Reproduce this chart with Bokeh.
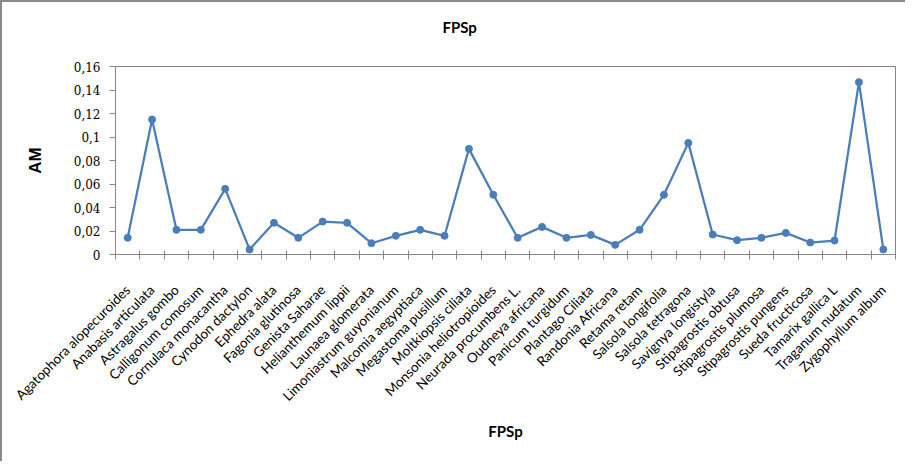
import math
from bokeh.plotting import figure
from bokeh.models import Range1d, FixedTicker, ColumnDataSource, Title
from bokeh.embed import file_html
from bokeh.resources import INLINE

chart_title = "FPSp"
species = [
    "Agatophora alopecuroides", "Anabasis articulata", "Astragalus gombo",
    "Calligonum comosum", "Cornulaca monacantha", "Cynodon dactylon",
    "Ephedra alata", "Fagonia glutinosa", "Genista Saharae",
    "Helianthemum lippii", "Launaea glomerata", "Limoniastrum guyonianum",
    "Malcomia aegyptiaca", "Megastoma pusillum", "Moltkiopsis ciliata",
    "Monsonia heliotropioides", "Neurada procumbens L.", "Oudneya africana",
    "Panicum turgidum", "Plantago Ciliata", "Randonia Africana",
    "Retama retam", "Salsola longifolia", "Salsola tetragona",
    "Savignya longistyla", "Stipagrostis obtusa", "Stipagrostis plumosa",
    "Stipagrostis pungens", "Sueda fructicosa", "Tamarix gallica L",
    "Traganum nudatum", "Zygophyllum album",
]
am_values = [
    0.0142, 0.1149, 0.0210, 0.0210, 0.0559, 0.0043,
    0.0270, 0.0142, 0.0280, 0.0270, 0.0096, 0.0159,
    0.0210, 0.0159, 0.0899, 0.0508, 0.0142, 0.0235,
    0.0142, 0.0167, 0.0082, 0.0210, 0.0508, 0.0950,
    0.0170, 0.0122, 0.0142, 0.0184, 0.0102, 0.0119,
    0.1467, 0.0043,
]
y_tick_values = [0, 0.02, 0.04, 0.06, 0.08, 0.1, 0.12, 0.14, 0.16]
y_tick_labels = ["0", "0,02", "0,04", "0,06", "0,08", "0,1", "0,12", "0,14", "0,16"]

n = len(species)
positions = list(range(1, n + 1))
src = ColumnDataSource(dict(x=positions, y=am_values, name=species))

GRAY = "#868686"
BLUE = "#4a7ebb"

p = figure(
    width=905, height=461,
    output_backend="svg", toolbar_location=None,
    x_range=Range1d(0.5, n + 0.5), y_range=Range1d(0, 0.16),
    min_border_left=113, min_border_right=12,
    min_border_top=64, min_border_bottom=209,
)
p.styles = {"border-left": "2px solid #8a8a8a", "border-top": "2px solid #8a8a8a"}
p.title.standoff = 0

# spacer panel between the frame and the chart title
p.add_layout(Title(text=" ", text_font_size="1px", standoff=28), "above")
# chart title, centred over the whole chart area (as in the spreadsheet original)
p.add_layout(Title(
    text=chart_title, align="left", offset=327, standoff=0,
    text_font="Lato", text_font_size="15px", text_font_style="bold",
    text_color="#000000",
), "above")

p.grid.visible = False
p.outline_line_color = GRAY
p.outline_line_width = 1
p.background_fill_color = "white"
p.border_fill_color = "white"

# x axis: labels at category centres, tick marks at category boundaries
xa = p.xaxis[0]
xa.ticker = FixedTicker(ticks=positions, minor_ticks=[k + 0.5 for k in range(n + 1)])
xa.major_label_overrides = {pos: name for pos, name in zip(positions, species)}
xa.major_label_orientation = math.pi / 4
xa.major_tick_in = 0
xa.major_tick_out = 0
xa.minor_tick_in = 4
xa.minor_tick_out = 5
xa.minor_tick_line_color = GRAY
xa.axis_line_color = GRAY
xa.major_label_text_font = "Lato"
xa.major_label_text_font_size = "13.5px"
xa.major_label_text_color = "#000000"
xa.major_label_standoff = 28
xa.axis_label = "FPSp"
xa.axis_label_text_font = "Lato"
xa.axis_label_text_font_size = "15px"
xa.axis_label_text_font_style = "bold"
xa.axis_label_text_color = "#000000"
xa.axis_label_standoff = 9

ya = p.yaxis[0]
ya.ticker = FixedTicker(ticks=y_tick_values, minor_ticks=[])
ya.major_label_overrides = {v: t for v, t in zip(y_tick_values, y_tick_labels)}
ya.major_tick_in = 0
ya.major_tick_out = 6
ya.major_tick_line_color = GRAY
ya.minor_tick_line_color = None
ya.axis_line_color = GRAY
ya.major_label_text_font = "DejaVu Serif"
ya.major_label_text_font_size = "12px"
ya.major_label_text_color = "#000000"
ya.major_label_standoff = 9
ya.axis_label = "AM"
ya.axis_label_text_font = "Liberation Sans"
ya.axis_label_text_font_size = "17px"
ya.axis_label_text_font_style = "bold"
ya.axis_label_text_color = "#000000"
ya.axis_label_standoff = 26

p.line("x", "y", source=src, line_color=BLUE, line_width=2.25)
p.scatter("x", "y", source=src, size=7, fill_color=BLUE, line_color=BLUE)

open("out.html", "w").write(file_html(p, INLINE))
